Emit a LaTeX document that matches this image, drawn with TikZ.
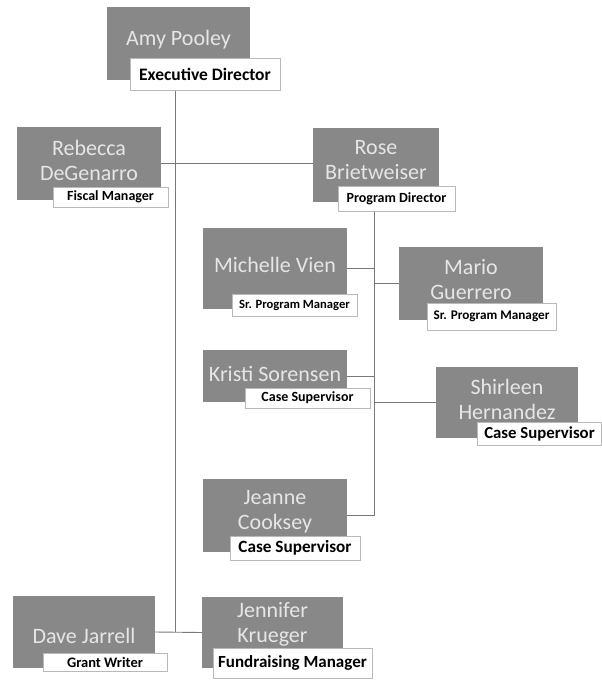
\documentclass[tikz,border=0pt]{standalone}
\usepackage{fontspec}
\setmainfont{Carlito}
\usetikzlibrary{backgrounds}
\definecolor{boxgray}{RGB}{136,136,136}
\definecolor{namegray}{RGB}{230,230,230}
\definecolor{linegray}{RGB}{120,120,120}
\definecolor{rolegray}{RGB}{185,185,185}

\begin{document}
\begin{tikzpicture}[x=1pt,y=-1pt,
  person/.style={fill=boxgray,inner sep=0pt},
  pname/.style={text=namegray,align=center,inner sep=0pt,
    font=\fontsize{22}{25}\selectfont},
  role/.style={draw=rolegray,fill=white,line width=1pt,inner sep=0pt,
    font=\bfseries\fontsize{#1}{#1}\selectfont},
  link/.style={draw=linegray,line width=0.9pt}]
  \useasboundingbox (0,0) rectangle (602,681);
  % direccion
  \node[person,minimum width=143,minimum height=73] (amy) at (178.5,43.5) {};
  \node[pname] (amyname) at ([yshift=3.5]amy.center) {Amy Pooley};
  \node[role=17.5,minimum width=150,minimum height=32] (amyrole) at (205,74) {Executive Director};
  \node[person,minimum width=144,minimum height=73] (rebecca) at (89,163.5) {};
  \node[pname] (rebeccaname) at ([yshift=3.5]rebecca.center) {Rebecca\\DeGenarro};
  \node[role=14,minimum width=115,minimum height=20] (rebeccarole) at (110.5,197) {Fiscal Manager};
  \node[person,minimum width=126,minimum height=74] (rose) at (376,165) {};
  \node[pname] (rosename) at ([yshift=4.5]rose.center) {Rose\\Brietweiser};
  \node[role=14,minimum width=117,minimum height=25] (roserole) at (396.5,198.5) {Program Director};
  % programa
  \node[person,minimum width=144,minimum height=81] (michelle) at (275,268.5) {};
  \node[pname] (michellename) at ([yshift=3.5]michelle.center) {Michelle Vien};
  \node[role=12.6,minimum width=125,minimum height=22] (michellerole) at (294.5,305) {Sr. Program Manager};
  \node[person,minimum width=144,minimum height=73] (mario) at (471,283.5) {};
  \node[pname] (marioname) at ([yshift=3.5]mario.center) {Mario\\Guerrero};
  \node[role=13.2,minimum width=129,minimum height=27] (mariorole) at (491.5,316.5) {Sr. Program Manager};
  \node[person,minimum width=144,minimum height=52] (kristi) at (275,376) {};
  \node[pname] (kristiname) at ([yshift=2]kristi.center) {Kristi Sorensen};
  \node[role=14,minimum width=125,minimum height=20] (kristirole) at (307.5,398) {Case Supervisor};
  \node[person,minimum width=142,minimum height=71] (shirleen) at (507,402.5) {};
  \node[pname] (shirleenname) at ([yshift=3]shirleen.center) {Shirleen\\Hernandez};
  \node[role=16.8,minimum width=124,minimum height=23] (shirleenrole) at (539.5,433.5) {Case Supervisor};
  \node[person,minimum width=144,minimum height=73] (jeanne) at (275,515.5) {};
  \node[pname] (jeannename) at ([yshift=4]jeanne.center) {Jeanne\\Cooksey};
  \node[role=17.2,minimum width=130,minimum height=24] (jeannerole) at (295,548) {Case Supervisor};
  % desarrollo
  \node[person,minimum width=142,minimum height=72] (dave) at (84,632) {};
  \node[pname] (davename) at ([yshift=-4]dave.center) {Dave Jarrell};
  \node[role=14.5,minimum width=124,minimum height=18] (daverole) at (105,662.5) {Grant Writer};
  \node[person,minimum width=141,minimum height=71] (jennifer) at (272.5,632.5) {};
  \node[pname] (jennifername) at ([yshift=8]jennifer.center) {Jennifer\\Krueger};
  \node[role=17,minimum width=159,minimum height=30] (jenniferrole) at (292.5,663) {Fundraising Manager};
  % lineas
  \coordinate (spine) at (175,632);
  \coordinate (progspine) at (374,515.5);
  \begin{scope}[on background layer]
    \draw[link] (amyrole.south -| spine) -- (spine);
    \draw[link] (dave.east) -- (jennifer.west);
    \draw[link] (rebecca.east) -- (rebecca.east -| rose.west);
    \draw[link] (roserole.south -| progspine) -- (progspine) -- (jeanne.east);
    \draw[link] (michelle.east) -- (michelle.east -| progspine);
    \draw[link] (progspine |- mario.west) -- (mario.west);
    \draw[link] (kristi.east) -- (kristi.east -| progspine);
    \draw[link] (progspine |- shirleen.west) -- (shirleen.west);
  \end{scope}
\end{tikzpicture}
\end{document}
